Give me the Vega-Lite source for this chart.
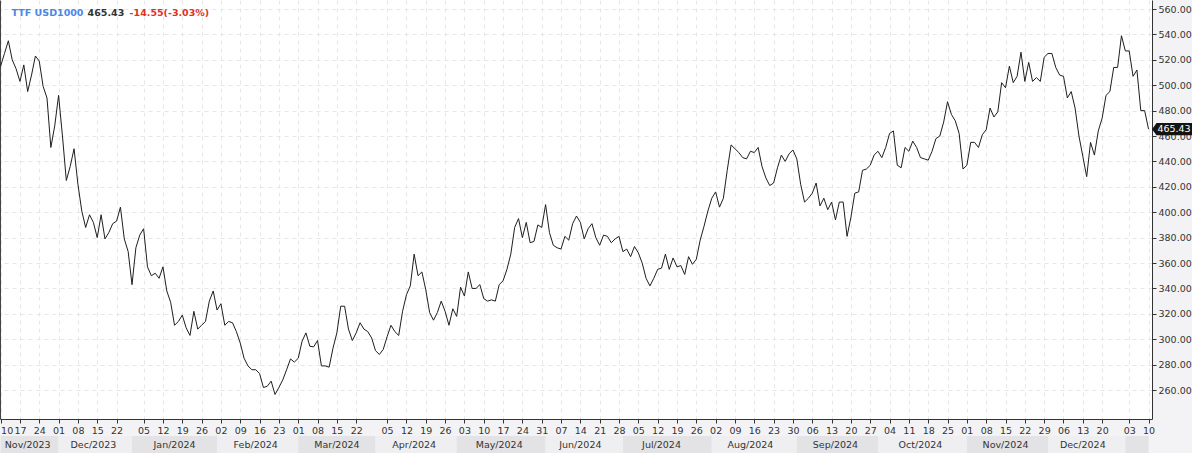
{
  "$schema": "https://vega.github.io/schema/vega-lite/v6.json",
  "background": "#f3f3f5",
  "padding": 0,
  "spacing": 1,
  "config": {"view": {"stroke": null}},
  "datasets": {
    "prices": [
      {"date":"2023-11-10","close":515},{"date":"2023-11-13","close":525},{"date":"2023-11-14","close":535},{"date":"2023-11-15","close":520},{"date":"2023-11-16","close":513},
      {"date":"2023-11-17","close":503},{"date":"2023-11-20","close":516},{"date":"2023-11-21","close":495},{"date":"2023-11-22","close":508},{"date":"2023-11-23","close":523},
      {"date":"2023-11-24","close":519},{"date":"2023-11-27","close":499},{"date":"2023-11-28","close":490},{"date":"2023-11-29","close":451},{"date":"2023-11-30","close":468},
      {"date":"2023-12-01","close":492},{"date":"2023-12-04","close":460},{"date":"2023-12-05","close":425},{"date":"2023-12-06","close":436},{"date":"2023-12-07","close":450},
      {"date":"2023-12-08","close":422},{"date":"2023-12-11","close":401},{"date":"2023-12-12","close":388},{"date":"2023-12-13","close":398},{"date":"2023-12-14","close":392},
      {"date":"2023-12-15","close":380},{"date":"2023-12-18","close":398},{"date":"2023-12-19","close":379},{"date":"2023-12-20","close":384},{"date":"2023-12-21","close":391},
      {"date":"2023-12-22","close":393},{"date":"2023-12-27","close":404},{"date":"2023-12-28","close":379},{"date":"2023-12-29","close":369},{"date":"2024-01-02","close":343},
      {"date":"2024-01-03","close":372},{"date":"2024-01-04","close":382},{"date":"2024-01-05","close":387},{"date":"2024-01-08","close":357},{"date":"2024-01-09","close":350},
      {"date":"2024-01-10","close":352},{"date":"2024-01-11","close":348},{"date":"2024-01-12","close":357},{"date":"2024-01-15","close":338},{"date":"2024-01-16","close":329},
      {"date":"2024-01-17","close":311},{"date":"2024-01-18","close":314},{"date":"2024-01-19","close":319},{"date":"2024-01-22","close":309},{"date":"2024-01-23","close":303},
      {"date":"2024-01-24","close":322},{"date":"2024-01-25","close":308},{"date":"2024-01-26","close":311},{"date":"2024-01-29","close":314},{"date":"2024-01-30","close":330},
      {"date":"2024-01-31","close":338},{"date":"2024-02-01","close":323},{"date":"2024-02-02","close":328},{"date":"2024-02-05","close":311},{"date":"2024-02-06","close":314},
      {"date":"2024-02-07","close":313},{"date":"2024-02-08","close":306},{"date":"2024-02-09","close":297},{"date":"2024-02-12","close":285},{"date":"2024-02-13","close":279},
      {"date":"2024-02-14","close":276},{"date":"2024-02-15","close":276},{"date":"2024-02-16","close":273},{"date":"2024-02-19","close":262},{"date":"2024-02-20","close":263},
      {"date":"2024-02-21","close":267},{"date":"2024-02-22","close":256.5},{"date":"2024-02-23","close":262},{"date":"2024-02-26","close":268},{"date":"2024-02-27","close":276},
      {"date":"2024-02-28","close":284.5},{"date":"2024-02-29","close":282},{"date":"2024-03-01","close":285},{"date":"2024-03-04","close":298.5},{"date":"2024-03-05","close":305},
      {"date":"2024-03-06","close":294.5},{"date":"2024-03-07","close":294},{"date":"2024-03-08","close":299},{"date":"2024-03-11","close":279},{"date":"2024-03-12","close":279},
      {"date":"2024-03-13","close":278},{"date":"2024-03-14","close":293},{"date":"2024-03-15","close":305},{"date":"2024-03-18","close":326},{"date":"2024-03-19","close":326},
      {"date":"2024-03-20","close":308},{"date":"2024-03-21","close":299},{"date":"2024-03-22","close":305},{"date":"2024-03-25","close":313},{"date":"2024-03-26","close":308},
      {"date":"2024-03-27","close":306},{"date":"2024-03-28","close":301},{"date":"2024-04-02","close":291},{"date":"2024-04-03","close":288},{"date":"2024-04-04","close":292},
      {"date":"2024-04-05","close":302},{"date":"2024-04-08","close":311},{"date":"2024-04-09","close":306},{"date":"2024-04-10","close":303},{"date":"2024-04-11","close":322},
      {"date":"2024-04-12","close":335},{"date":"2024-04-15","close":342},{"date":"2024-04-16","close":367},{"date":"2024-04-17","close":350},{"date":"2024-04-18","close":353},
      {"date":"2024-04-19","close":339},{"date":"2024-04-22","close":321},{"date":"2024-04-23","close":315},{"date":"2024-04-24","close":321},{"date":"2024-04-25","close":330},
      {"date":"2024-04-26","close":322},{"date":"2024-04-29","close":311},{"date":"2024-04-30","close":324},{"date":"2024-05-01","close":318},{"date":"2024-05-02","close":341},
      {"date":"2024-05-03","close":334},{"date":"2024-05-06","close":353},{"date":"2024-05-07","close":340},{"date":"2024-05-08","close":340},{"date":"2024-05-09","close":343},
      {"date":"2024-05-10","close":332},{"date":"2024-05-13","close":330},{"date":"2024-05-14","close":331},{"date":"2024-05-15","close":330},{"date":"2024-05-16","close":343},
      {"date":"2024-05-17","close":346},{"date":"2024-05-20","close":355},{"date":"2024-05-21","close":367},{"date":"2024-05-22","close":388},{"date":"2024-05-23","close":395},
      {"date":"2024-05-24","close":380},{"date":"2024-05-27","close":392},{"date":"2024-05-28","close":376},{"date":"2024-05-29","close":377},{"date":"2024-05-30","close":390},
      {"date":"2024-05-31","close":388},{"date":"2024-06-03","close":406},{"date":"2024-06-04","close":384},{"date":"2024-06-05","close":374},{"date":"2024-06-06","close":372},
      {"date":"2024-06-07","close":371},{"date":"2024-06-10","close":381},{"date":"2024-06-11","close":378},{"date":"2024-06-12","close":391},{"date":"2024-06-13","close":397},
      {"date":"2024-06-14","close":392},{"date":"2024-06-17","close":379},{"date":"2024-06-18","close":387},{"date":"2024-06-19","close":391},{"date":"2024-06-20","close":380},
      {"date":"2024-06-21","close":374},{"date":"2024-06-24","close":382},{"date":"2024-06-25","close":381},{"date":"2024-06-26","close":376},{"date":"2024-06-27","close":379},
      {"date":"2024-06-28","close":381},{"date":"2024-07-01","close":369},{"date":"2024-07-02","close":371},{"date":"2024-07-03","close":365},{"date":"2024-07-04","close":373},
      {"date":"2024-07-05","close":368},{"date":"2024-07-08","close":360},{"date":"2024-07-09","close":348},{"date":"2024-07-10","close":342},{"date":"2024-07-11","close":348},
      {"date":"2024-07-12","close":355},{"date":"2024-07-15","close":356},{"date":"2024-07-16","close":367},{"date":"2024-07-17","close":355},{"date":"2024-07-18","close":364},
      {"date":"2024-07-19","close":357},{"date":"2024-07-22","close":358},{"date":"2024-07-23","close":351},{"date":"2024-07-24","close":365},{"date":"2024-07-25","close":359},
      {"date":"2024-07-26","close":363},{"date":"2024-07-29","close":378},{"date":"2024-07-30","close":389},{"date":"2024-07-31","close":401},{"date":"2024-08-01","close":411},
      {"date":"2024-08-02","close":416},{"date":"2024-08-05","close":404},{"date":"2024-08-06","close":411},{"date":"2024-08-07","close":433},{"date":"2024-08-08","close":453},
      {"date":"2024-08-09","close":450},{"date":"2024-08-12","close":447},{"date":"2024-08-13","close":443},{"date":"2024-08-14","close":442},{"date":"2024-08-15","close":448},
      {"date":"2024-08-16","close":447},{"date":"2024-08-19","close":451},{"date":"2024-08-20","close":436},{"date":"2024-08-21","close":427},{"date":"2024-08-22","close":421},
      {"date":"2024-08-23","close":423},{"date":"2024-08-26","close":435},{"date":"2024-08-27","close":445},{"date":"2024-08-28","close":440},{"date":"2024-08-29","close":446},
      {"date":"2024-08-30","close":449},{"date":"2024-09-02","close":442},{"date":"2024-09-03","close":422},{"date":"2024-09-04","close":408},{"date":"2024-09-05","close":411},
      {"date":"2024-09-06","close":415},{"date":"2024-09-09","close":423},{"date":"2024-09-10","close":405},{"date":"2024-09-11","close":411},{"date":"2024-09-12","close":402},
      {"date":"2024-09-13","close":408},{"date":"2024-09-16","close":394},{"date":"2024-09-17","close":408},{"date":"2024-09-18","close":408},{"date":"2024-09-19","close":381},
      {"date":"2024-09-20","close":396},{"date":"2024-09-23","close":415},{"date":"2024-09-24","close":416},{"date":"2024-09-25","close":433},{"date":"2024-09-26","close":434},
      {"date":"2024-09-27","close":437},{"date":"2024-09-30","close":445},{"date":"2024-10-01","close":448},{"date":"2024-10-02","close":443},{"date":"2024-10-03","close":451},
      {"date":"2024-10-04","close":462},{"date":"2024-10-07","close":464},{"date":"2024-10-08","close":437},{"date":"2024-10-09","close":435},{"date":"2024-10-10","close":451},
      {"date":"2024-10-11","close":448},{"date":"2024-10-14","close":456},{"date":"2024-10-15","close":451},{"date":"2024-10-16","close":443},{"date":"2024-10-17","close":442},
      {"date":"2024-10-18","close":441},{"date":"2024-10-21","close":448},{"date":"2024-10-22","close":458},{"date":"2024-10-23","close":460},{"date":"2024-10-24","close":471},
      {"date":"2024-10-25","close":487},{"date":"2024-10-28","close":477},{"date":"2024-10-29","close":472},{"date":"2024-10-30","close":462},{"date":"2024-10-31","close":434},
      {"date":"2024-11-01","close":437},{"date":"2024-11-04","close":455},{"date":"2024-11-05","close":455},{"date":"2024-11-06","close":451},{"date":"2024-11-07","close":461},
      {"date":"2024-11-08","close":465},{"date":"2024-11-11","close":482},{"date":"2024-11-12","close":475},{"date":"2024-11-13","close":479},{"date":"2024-11-14","close":502},
      {"date":"2024-11-15","close":498},{"date":"2024-11-18","close":515},{"date":"2024-11-19","close":502},{"date":"2024-11-20","close":507},{"date":"2024-11-21","close":526},
      {"date":"2024-11-22","close":503},{"date":"2024-11-25","close":518},{"date":"2024-11-26","close":503},{"date":"2024-11-27","close":506},{"date":"2024-11-28","close":503},
      {"date":"2024-11-29","close":522},{"date":"2024-12-02","close":525},{"date":"2024-12-03","close":525},{"date":"2024-12-04","close":514},{"date":"2024-12-05","close":508},
      {"date":"2024-12-06","close":507},{"date":"2024-12-09","close":490},{"date":"2024-12-10","close":495},{"date":"2024-12-11","close":482},{"date":"2024-12-12","close":460},
      {"date":"2024-12-13","close":444},{"date":"2024-12-16","close":428},{"date":"2024-12-17","close":455},{"date":"2024-12-18","close":445},{"date":"2024-12-19","close":464},
      {"date":"2024-12-20","close":474},{"date":"2024-12-23","close":492},{"date":"2024-12-24","close":495},{"date":"2024-12-27","close":514},{"date":"2024-12-30","close":514},
      {"date":"2024-12-31","close":539},{"date":"2025-01-02","close":527},{"date":"2025-01-03","close":527},{"date":"2025-01-06","close":507},{"date":"2025-01-07","close":512},
      {"date":"2025-01-08","close":480},{"date":"2025-01-09","close":480},{"date":"2025-01-10","close":465.43}
    ],
    "months": [
      {"label":"Nov/2023","start":"2023-11-10","end":"2023-12-01","mid":"2023-11-21","tone":"dark"},
      {"label":"Dec/2023","start":"2023-12-01","end":"2024-01-02","mid":"2023-12-14","tone":"light"},
      {"label":"Jan/2024","start":"2024-01-02","end":"2024-02-01","mid":"2024-01-17","tone":"dark"},
      {"label":"Feb/2024","start":"2024-02-01","end":"2024-03-01","mid":"2024-02-15","tone":"light"},
      {"label":"Mar/2024","start":"2024-03-01","end":"2024-04-02","mid":"2024-03-15","tone":"dark"},
      {"label":"Apr/2024","start":"2024-04-02","end":"2024-05-01","mid":"2024-04-16","tone":"light"},
      {"label":"May/2024","start":"2024-05-01","end":"2024-06-03","mid":"2024-05-16","tone":"dark"},
      {"label":"Jun/2024","start":"2024-06-03","end":"2024-07-01","mid":"2024-06-14","tone":"light"},
      {"label":"Jul/2024","start":"2024-07-01","end":"2024-08-01","mid":"2024-07-15","tone":"dark"},
      {"label":"Aug/2024","start":"2024-08-01","end":"2024-09-02","mid":"2024-08-15","tone":"light"},
      {"label":"Sep/2024","start":"2024-09-02","end":"2024-10-01","mid":"2024-09-16","tone":"dark"},
      {"label":"Oct/2024","start":"2024-10-01","end":"2024-11-01","mid":"2024-10-16","tone":"light"},
      {"label":"Nov/2024","start":"2024-11-01","end":"2024-12-02","mid":"2024-11-15","tone":"dark"},
      {"label":"Dec/2024","start":"2024-12-02","end":"2025-01-02","mid":"2024-12-13","tone":"light"},
      {"label":"","start":"2025-01-02","end":"2025-01-10","mid":"2025-01-07","tone":"dark"}
    ],
    "header": [
      {"name":"TTF USD1000","last":"465.43","change":"-14.55(-3.03%)"}
    ]
  },
  "resolve": {"scale": {"x": "shared"}},
  "vconcat": [
    {
      "width": 1152,
      "height": 419,
      "view": {"fill": "white", "stroke": null},
      "resolve": {"axis": {"y": "independent"}},
      "layer": [
        {
          "data": {"name": "prices"},
          "mark": {"type": "line", "color": "#1e1e1e", "strokeWidth": 1, "clip": true, "interpolate": "linear"},
          "encoding": {
            "x": {
              "field": "date", "type": "ordinal",
              "scale": {"type": "point", "padding": 0.53, "align": 0.15},
              "axis": {
                "orient": "bottom", "title": null,
                "values": ["2023-11-10","2023-11-17","2023-11-24","2023-12-01","2023-12-08","2023-12-15","2023-12-22","2024-01-05","2024-01-12","2024-01-19","2024-01-26","2024-02-02","2024-02-09","2024-02-16","2024-02-23","2024-03-01","2024-03-08","2024-03-15","2024-03-22","2024-04-05","2024-04-12","2024-04-19","2024-04-26","2024-05-03","2024-05-10","2024-05-17","2024-05-24","2024-05-31","2024-06-07","2024-06-14","2024-06-21","2024-06-28","2024-07-05","2024-07-12","2024-07-19","2024-07-26","2024-08-02","2024-08-09","2024-08-16","2024-08-23","2024-08-30","2024-09-06","2024-09-13","2024-09-20","2024-09-27","2024-10-04","2024-10-11","2024-10-18","2024-10-25","2024-11-01","2024-11-08","2024-11-15","2024-11-22","2024-11-29","2024-12-06","2024-12-13","2024-12-20","2025-01-03","2025-01-10"],
                "labelExpr": "substring(datum.value, 8, 10)",
                "labelAngle": 0, "labelOverlap": false, "labelFlush": 2,
                "labelFont": "DejaVu Sans", "labelFontSize": 9.5, "labelColor": "#333333", "labelPadding": 2,
                "tickSize": 4, "tickColor": "#333333", "domainColor": "#333333",
                "grid": true, "gridDash": [4, 4], "gridColor": "#e6e6e6"
              }
            },
            "y": {
              "field": "close", "type": "quantitative",
              "scale": {"domain": [237.2, 567.1], "nice": false, "zero": false},
              "axis": {
                "orient": "right", "title": null,
                "values": [260,280,300,320,340,360,380,400,420,440,460,480,500,520,540,560],
                "format": ".2f", "labelOverlap": false,
                "labelFont": "DejaVu Sans", "labelFontSize": 9.5, "labelColor": "#333333", "labelPadding": 2,
                "tickSize": 4, "tickColor": "#333333", "domainColor": "#333333",
                "grid": true, "gridDash": [4, 4], "gridColor": "#e6e6e6"
              }
            }
          }
        },
        {
          "data": {"name": "header"},
          "mark": {"type": "text", "align": "left", "baseline": "alphabetic", "font": "DejaVu Sans", "fontSize": 9.5, "fontWeight": "bold", "color": "#4a86e8", "dx": 11},
          "encoding": {
            "x": {"datum": "2023-11-10", "type": "ordinal"},
            "y": {"datum": 554.5, "type": "quantitative", "axis": null},
            "text": {"field": "name"}
          }
        },
        {
          "data": {"name": "header"},
          "mark": {"type": "text", "align": "left", "baseline": "alphabetic", "font": "DejaVu Sans", "fontSize": 9.5, "fontWeight": "bold", "color": "#333333", "dx": 87},
          "encoding": {
            "x": {"datum": "2023-11-10", "type": "ordinal"},
            "y": {"datum": 554.5, "type": "quantitative", "axis": null},
            "text": {"field": "last"}
          }
        },
        {
          "data": {"name": "header"},
          "mark": {"type": "text", "align": "left", "baseline": "alphabetic", "font": "DejaVu Sans", "fontSize": 9.5, "fontWeight": "bold", "color": "#e0311b", "dx": 129},
          "encoding": {
            "x": {"datum": "2023-11-10", "type": "ordinal"},
            "y": {"datum": 554.5, "type": "quantitative", "axis": null},
            "text": {"field": "change"}
          }
        },
        {
          "data": {"name": "prices"},
          "transform": [{"filter": "datum.date == '2025-01-10'"}],
          "mark": {"type": "point", "filled": true, "opacity": 1, "color": "#141414", "size": 400, "shape": "M0.35,0 L0.8,-0.62 L4.45,-0.62 L4.45,0.62 L0.8,0.62 Z"},
          "encoding": {
            "x": {"field": "date", "type": "ordinal"},
            "y": {"field": "close", "type": "quantitative", "axis": null}
          }
        },
        {
          "data": {"name": "prices"},
          "transform": [{"filter": "datum.date == '2025-01-10'"}],
          "mark": {"type": "text", "align": "center", "baseline": "middle", "font": "DejaVu Sans", "fontSize": 9.5, "color": "white", "dx": 25.5},
          "encoding": {
            "x": {"field": "date", "type": "ordinal"},
            "y": {
              "field": "close", "type": "quantitative",
              "axis": {"orient": "left", "title": null, "labels": false, "ticks": false, "grid": false, "domainColor": "#444444"}
            },
            "text": {"field": "close", "type": "quantitative", "format": ".2f"}
          }
        }
      ]
    },
    {
      "width": 1152,
      "height": 17,
      "data": {"name": "months"},
      "layer": [
        {
          "mark": {"type": "rect"},
          "encoding": {
            "x": {"field": "start", "type": "ordinal", "axis": null},
            "x2": {"field": "end"},
            "color": {"field": "tone", "type": "nominal", "scale": {"domain": ["dark", "light"], "range": ["#e3e3e6", "#efeff2"]}, "legend": null}
          }
        },
        {
          "mark": {"type": "text", "align": "center", "baseline": "middle", "font": "DejaVu Sans", "fontSize": 9.5, "color": "#333333"},
          "encoding": {
            "x": {"field": "mid", "type": "ordinal", "axis": null},
            "text": {"field": "label"}
          }
        }
      ]
    }
  ]
}
